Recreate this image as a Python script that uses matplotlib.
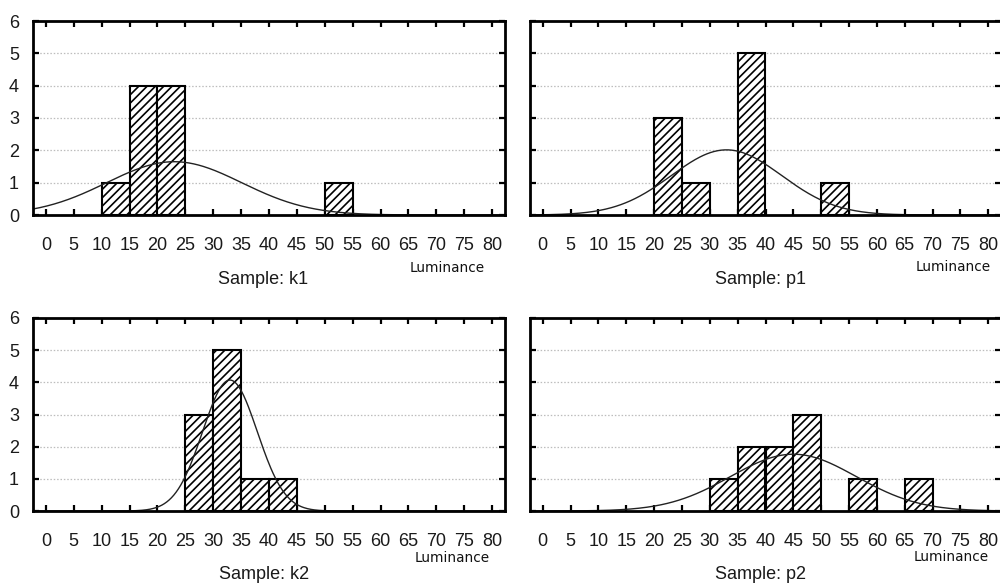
import numpy as np
import matplotlib
matplotlib.use("Agg")
import matplotlib.pyplot as plt

# ---- data ----
bin_starts = list(range(0, 80, 5))          # 5-unit luminance bins
bin_width = 5
counts_k1 = [0, 0, 1, 4, 4, 0, 0, 0, 0, 0, 1, 0, 0, 0, 0, 0]
counts_p1 = [0, 0, 0, 0, 3, 1, 0, 5, 0, 0, 1, 0, 0, 0, 0, 0]
counts_k2 = [0, 0, 0, 0, 0, 3, 5, 1, 1, 0, 0, 0, 0, 0, 0, 0]
counts_p2 = [0, 0, 0, 0, 0, 0, 1, 2, 2, 3, 0, 1, 0, 1, 0, 0]
samples = ["k1", "p1", "k2", "p2"]
fit_means = [23.0, 33.0, 33.0, 45.0]        # fitted normal curve parameters
fit_sds = [12.1, 9.9, 4.9, 11.3]
x_ticks = list(range(0, 81, 5))
y_ticks = [0, 1, 2, 3, 4, 5, 6]
x_label = "Luminance"

all_counts = [counts_k1, counts_p1, counts_k2, counts_p2]

plt.rcParams["hatch.linewidth"] = 1.2
fig = plt.figure(figsize=(10, 5.86), dpi=100)

W, H = 1000.0, 586.0
positions = [
    (33 / W, (H - 215) / H, 472 / W, 194 / H),
    (530 / W, (H - 215) / H, 471 / W, 194 / H),
    (33 / W, (H - 511) / H, 472 / W, 193 / H),
    (530 / W, (H - 511) / H, 471 / W, 193 / H),
]
lum_pos = [(0.877, -0.273), (0.898, -0.268), (0.888, -0.244), (0.895, -0.24)]
samp_pos = [(0.487, -0.335), (0.49, -0.335), (0.49, -0.33), (0.49, -0.33)]

tick_font = dict(family="Liberation Sans", size=13)
xs = np.linspace(-2.3, 82.3, 400)

for i, (name, counts, mu, sd) in enumerate(zip(samples, all_counts, fit_means, fit_sds)):
    ax = fig.add_axes(positions[i])
    ax.set_xlim(-2.3, 82.3)
    ax.set_ylim(0, 6)

    # dotted horizontal grid
    for yv in y_ticks[1:-1]:
        ax.axhline(yv, color="#bdbdbd", lw=0.9, ls=(0, (1.2, 1.5)), zorder=0)

    starts = [s for s, c in zip(bin_starts, counts) if c > 0]
    vals = [c for c in counts if c > 0]
    ax.bar(starts, vals, width=bin_width, align="edge", facecolor="white",
           edgecolor="black", linewidth=1.5, hatch="////", zorder=2)

    n = sum(counts)
    curve = n * bin_width * np.exp(-0.5 * ((xs - mu) / sd) ** 2) / (sd * np.sqrt(2 * np.pi))
    ax.plot(xs, curve, color="#222222", lw=1.0, zorder=3, clip_on=True)

    for sp in ax.spines.values():
        sp.set_linewidth(2.0)
        sp.set_color("black")
        sp.set_zorder(4)

    ax.set_xticks(x_ticks)
    ax.set_yticks(y_ticks)
    ax.tick_params(axis="both", direction="in", length=4, width=1.6,
                   top=True, right=True, colors="black")
    ax.tick_params(axis="x", pad=16)
    ax.tick_params(axis="y", pad=10)
    ax.set_xticklabels([str(t) for t in x_ticks], fontdict=tick_font, color="#1a1a1a")
    if i % 2 == 0:
        ax.set_yticklabels([str(t) for t in y_ticks], fontdict=tick_font, color="#1a1a1a")
    else:
        ax.set_yticklabels([])

    ax.text(lum_pos[i][0], lum_pos[i][1], x_label, transform=ax.transAxes,
            ha="center", va="center", family="DejaVu Sans", fontsize=9.8,
            color="#111111", clip_on=False)
    ax.text(samp_pos[i][0], samp_pos[i][1], "Sample: " + name, transform=ax.transAxes,
            ha="center", va="center", family="Liberation Sans", fontsize=13,
            color="#1a1a1a", clip_on=False)

fig.savefig("out.png", dpi=100, facecolor="white")
